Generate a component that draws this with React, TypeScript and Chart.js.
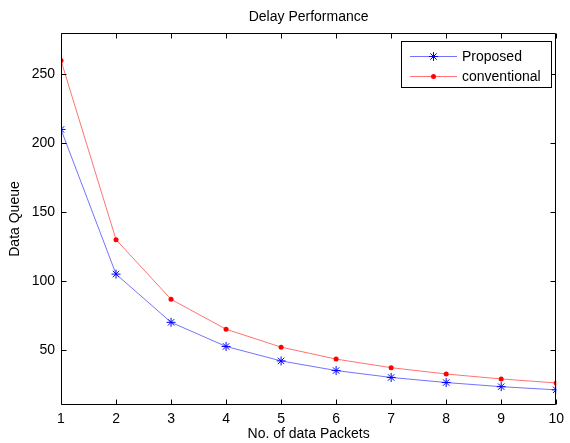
import React, { useEffect, useRef } from "react";
import { Chart, registerables } from "chart.js";

Chart.register(...registerables);

const chartTitle = "Delay Performance";
const xAxisLabel = "No. of data Packets";
const yAxisLabel = "Data Queue";
const packets = [1, 2, 3, 4, 5, 6, 7, 8, 9, 10];
const proposed = [210, 105, 70, 52.5, 42, 35, 30, 26.3, 23.3, 21];
const conventional = [260, 130, 86.7, 65, 52, 43.3, 37.1, 32.5, 28.9, 26];
const seriesNames = ["Proposed", "conventional"];
const xTicks = [1, 2, 3, 4, 5, 6, 7, 8, 9, 10];
const yTicks = [50, 100, 150, 200, 250];

const FONT = "'Liberation Sans', Arial, sans-serif";
const FS = 14;

function drawMarker(ctx: CanvasRenderingContext2D, style: string, x: number, y: number, r: number, color: string) {
  ctx.save();
  ctx.strokeStyle = color;
  ctx.fillStyle = color;
  ctx.lineWidth = 1;
  if (style === "star") {
    ctx.beginPath();
    ctx.moveTo(x - r, y); ctx.lineTo(x + r, y);
    ctx.moveTo(x, y - r); ctx.lineTo(x, y + r);
    const d = r * Math.SQRT1_2;
    ctx.moveTo(x - d, y - d); ctx.lineTo(x + d, y + d);
    ctx.moveTo(x - d, y + d); ctx.lineTo(x + d, y - d);
    ctx.stroke();
  } else {
    ctx.beginPath();
    ctx.arc(x, y, r, 0, Math.PI * 2);
    ctx.fill();
  }
  ctx.restore();
}

const matlabAxes = {
  id: "matlabAxes",
  afterDatasetsDraw(chart: any) {
    const { ctx, chartArea: a, scales } = chart;
    const xs = scales.x;
    const ys = scales.y;
    const L = Math.round(a.left) + 0.5;
    const R = Math.round(a.right) - 0.5;
    const T = Math.round(a.top) + 0.5;
    const B = Math.round(a.bottom) - 0.5;
    ctx.save();
    ctx.strokeStyle = "#000";
    ctx.lineWidth = 1;
    ctx.beginPath();
    ctx.rect(L, T, R - L, B - T);
    const tl = 5;
    xTicks.forEach((v) => {
      const px = Math.round(xs.getPixelForValue(v)) + 0.5;
      ctx.moveTo(px, B); ctx.lineTo(px, B - tl);
      ctx.moveTo(px, T); ctx.lineTo(px, T + tl);
    });
    yTicks.forEach((v) => {
      const py = Math.round(ys.getPixelForValue(v)) + 0.5;
      ctx.moveTo(L, py); ctx.lineTo(L + tl, py);
      ctx.moveTo(R, py); ctx.lineTo(R - tl, py);
    });
    ctx.stroke();

    // title centred over the axes box
    ctx.fillStyle = "#000";
    ctx.font = `${FS}px ${FONT}`;
    ctx.textAlign = "center";
    ctx.textBaseline = "middle";
    ctx.fillText(chartTitle, (a.left + a.right) / 2, 17);

    // legend
    const bx = 401.5, by = 41.5, bw = 150, bh = 46;
    ctx.fillStyle = "#fff";
    ctx.fillRect(bx, by, bw, bh);
    ctx.strokeStyle = "#000";
    ctx.strokeRect(bx, by, bw, bh);
    const rows = [56, 76];
    chart.data.datasets.forEach((ds: any, i: number) => {
      const y = rows[i] + 0.5;
      ctx.strokeStyle = ds.borderColor;
      ctx.lineWidth = 1;
      ctx.beginPath();
      ctx.moveTo(410, y);
      ctx.lineTo(457, y);
      ctx.stroke();
      drawMarker(ctx, ds.pointStyle, 433.5, y, ds.pointRadius, ds.pointBorderColor);
      ctx.fillStyle = "#000";
      ctx.font = `${FS}px ${FONT}`;
      ctx.textAlign = "left";
      ctx.textBaseline = "middle";
      ctx.fillText(ds.label, 462, rows[i] + 1);
    });
    ctx.restore();
  },
};

export default function App() {
  const ref = useRef<HTMLCanvasElement | null>(null);
  useEffect(() => {
    document.body.style.margin = "0";
    if (!ref.current) return;
    const chart = new Chart(ref.current, {
      type: "line",
      data: {
        datasets: [
          {
            label: seriesNames[0],
            data: packets.map((p, i) => ({ x: p, y: proposed[i] })),
            borderColor: "rgba(90,90,255,0.85)",
            borderWidth: 1,
            pointStyle: "star",
            pointRadius: 4.5,
            pointBorderColor: "#0000ff",
            pointBackgroundColor: "#0000ff",
            pointBorderWidth: 1,
            tension: 0,
          },
          {
            label: seriesNames[1],
            data: packets.map((p, i) => ({ x: p, y: conventional[i] })),
            borderColor: "rgba(255,90,90,0.85)",
            borderWidth: 1,
            pointStyle: "circle",
            pointRadius: 2.5,
            pointBorderColor: "#ff0000",
            pointBackgroundColor: "#ff0000",
            pointBorderWidth: 0,
            tension: 0,
          },
        ],
      },
      options: {
        responsive: false,
        animation: false,
        devicePixelRatio: 1,
        layout: { padding: { left: 0, right: 7, top: 33, bottom: 0 } },
        plugins: {
          legend: { display: false },
          tooltip: { enabled: false },
          title: { display: false },
        },
        scales: {
          x: {
            type: "linear",
            min: 1,
            max: 10,
            afterBuildTicks: (s: any) => { s.ticks = xTicks.map((v) => ({ value: v })); },
            afterFit: (s: any) => { s.height = 38; },
            grid: { display: false, drawTicks: false },
            border: { display: false },
            ticks: { color: "#000", padding: 6, font: { family: FONT, size: FS }, maxRotation: 0, autoSkip: false },
            title: { display: true, text: xAxisLabel, color: "#000", font: { family: FONT, size: FS }, padding: { top: 0, bottom: 0.6 } },
          },
          y: {
            type: "linear",
            min: 10,
            max: 280,
            afterBuildTicks: (s: any) => { s.ticks = yTicks.map((v) => ({ value: v })); },
            afterFit: (s: any) => { s.width = 61; },
            grid: { display: false, drawTicks: false },
            border: { display: false },
            ticks: { color: "#000", padding: 6, font: { family: FONT, size: FS } },
            title: { display: true, text: yAxisLabel, color: "#000", font: { family: FONT, size: FS }, padding: { top: 6.6, bottom: 0 } },
          },
        },
      },
      plugins: [matlabAxes],
    } as any);
    return () => chart.destroy();
  }, []);
  return (
    <div style={{ width: 570, height: 443 }}>
      <canvas ref={ref} width={570} height={443} style={{ display: "block" }} />
    </div>
  );
}
